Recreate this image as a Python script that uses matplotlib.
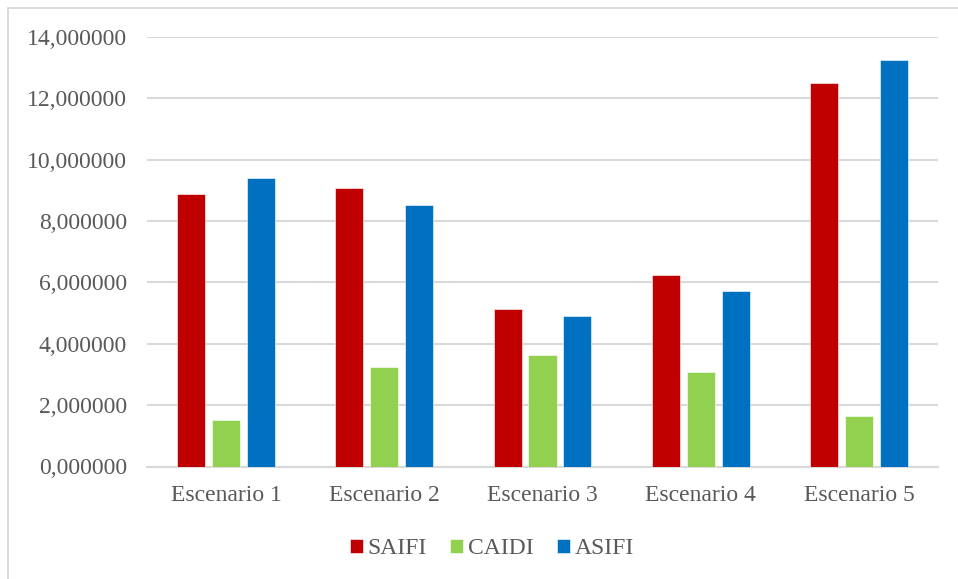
import matplotlib
matplotlib.use("Agg")
import matplotlib.pyplot as plt
import numpy as np
from matplotlib.ticker import FuncFormatter, MultipleLocator
from matplotlib.patches import Rectangle

categories = ["Escenario 1", "Escenario 2", "Escenario 3", "Escenario 4", "Escenario 5"]
saifi = [8.87, 9.07, 5.12, 6.25, 12.51]
caidi = [1.53, 3.23, 3.64, 3.07, 1.65]
asifi = [9.40, 8.51, 4.89, 5.73, 13.25]

series = [("SAIFI", saifi, "#C00000"),
          ("CAIDI", caidi, "#92D050"),
          ("ASIFI", asifi, "#0070C0")]

plt.rcParams["font.family"] = ["Liberation Serif", "DejaVu Serif"]
text_color = "#595959"
grid_color = "#D9D9D9"
fs = 17

W, H = 958, 579
fig = plt.figure(figsize=(W / 100, H / 100), dpi=100)
ax = fig.add_axes([147 / W, 1 - 466.5 / H, (938 - 147) / W, (466.5 - 37) / H])

# Chart area outline
fig.patches.append(Rectangle((7.5 / W, -0.1), 1.2, 1 - 7.5 / H + 0.1,
                             transform=fig.transFigure, fill=False,
                             edgecolor=grid_color, linewidth=1.3))

x = np.arange(len(categories))
width = 0.177
step = 0.221
for i, (name, vals, color) in enumerate(series):
    ax.bar(x + (i - 1) * step, vals, width, color=color, label=name,
           zorder=3, edgecolor="white", linewidth=0.4)

ax.set_xlim(-0.5, len(categories) - 0.5)
ax.set_ylim(0, 14)
ax.yaxis.set_major_locator(MultipleLocator(2))
ax.yaxis.set_major_formatter(FuncFormatter(lambda v, p: f"{v:.6f}".replace(".", ",")))
ax.set_xticks(x)
ax.set_xticklabels(categories)

ax.grid(axis="y", color=grid_color, linewidth=1.5, zorder=0)
for s in ["top", "right", "left"]:
    ax.spines[s].set_visible(False)
ax.spines["bottom"].set_color(grid_color)
ax.spines["bottom"].set_linewidth(1.5)
ax.tick_params(axis="both", length=0, labelsize=fs, colors=text_color)
ax.tick_params(axis="y", pad=14.5)
ax.tick_params(axis="x", pad=13.5)

leg = fig.legend(loc="center", bbox_to_anchor=(492 / W, 1 - 549 / H), ncol=3,
                 frameon=False, fontsize=fs, handlelength=0.55, handleheight=0.55,
                 handletextpad=0.2, columnspacing=1.0, labelcolor=text_color)

fig.savefig("out.png", dpi=100, facecolor="white")
